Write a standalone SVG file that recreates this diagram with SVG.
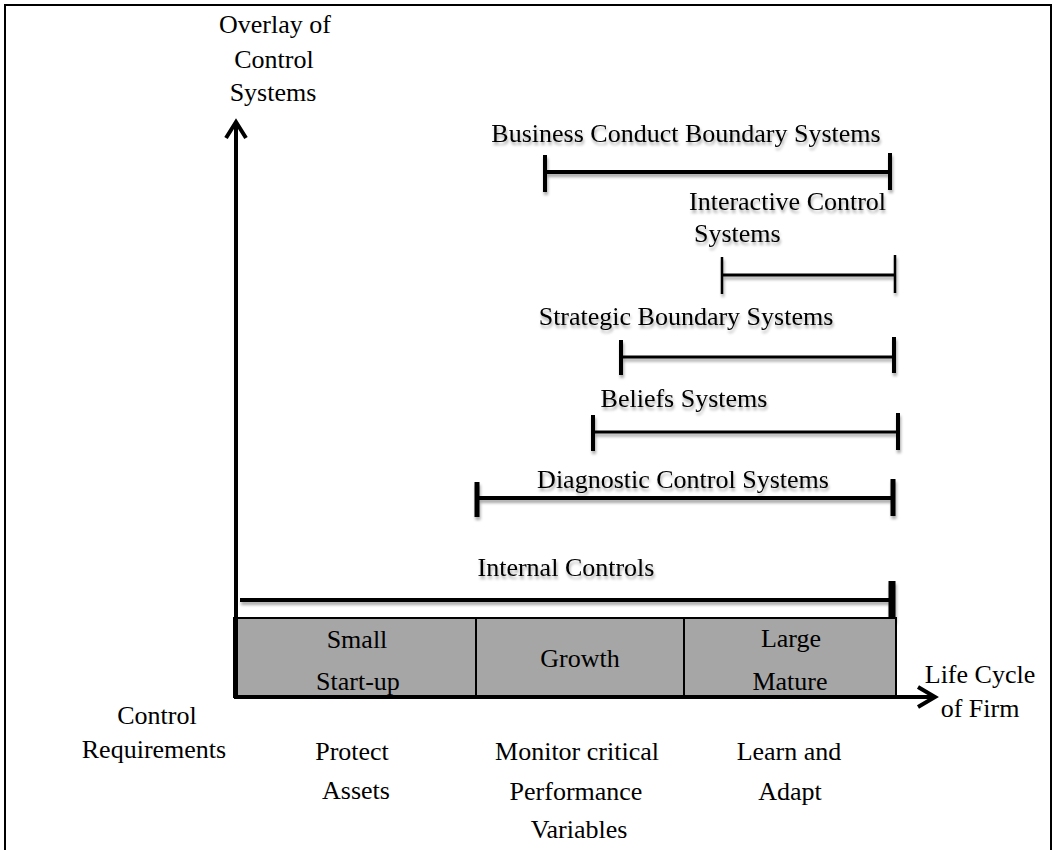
<svg xmlns="http://www.w3.org/2000/svg" width="1055" height="850" viewBox="0 0 1055 850">
  <defs>
    <filter id="shadow" x="-5%" y="-50%" width="110%" height="250%">
      <feGaussianBlur in="SourceAlpha" stdDeviation="1.5"/>
      <feOffset dx="1" dy="3" result="b"/>
      <feComponentTransfer><feFuncA type="linear" slope="0.35"/></feComponentTransfer>
      <feMerge><feMergeNode/><feMergeNode in="SourceGraphic"/></feMerge>
    </filter>
  </defs>
  <style>
    text { font-family: "Liberation Serif", "Times New Roman", serif; font-size: 26px; fill: #000; }
    .mid { text-anchor: middle; }
    .bar { stroke: #000; stroke-width: 4; fill: none; }
    .thin { stroke: #000; stroke-width: 3; fill: none; }
    .tick { stroke: #000; stroke-width: 4; }
    .tickthin { stroke: #000; stroke-width: 2.5; }
    .axis { stroke: #000; stroke-width: 4; fill: none; }
    .stage { fill: #a6a6a6; stroke: #000; stroke-width: 2; }
  </style>
  <rect x="0" y="0" width="1055" height="850" fill="#fff"/>
  <rect x="5" y="5" width="1046" height="860" fill="none" stroke="#000" stroke-width="2"/>

  <!-- Axis labels -->
  <g id="y-axis-label">
    <text class="mid" x="275" y="33">Overlay of</text>
    <text class="mid" x="274" y="68">Control</text>
    <text class="mid" x="273" y="101">Systems</text>
  </g>
  <g id="x-axis-label">
    <text class="mid" x="980" y="683">Life Cycle</text>
    <text class="mid" x="980" y="717">of Firm</text>
  </g>

  <!-- Systems bars -->
  <g id="business-conduct" filter="url(#shadow)">
    <text class="mid" x="686" y="142">Business Conduct Boundary Systems</text>
    <line class="bar" x1="545" y1="172" x2="890" y2="172"/>
    <line class="tick" x1="545" y1="155" x2="545" y2="192"/>
    <line class="tick" x1="890" y1="153" x2="890" y2="190"/>
  </g>
  <g id="interactive" filter="url(#shadow)">
    <text x="689" y="210">Interactive Control</text>
    <text x="694" y="242">Systems</text>
    <line class="thin" x1="722" y1="275" x2="895" y2="275"/>
    <line class="tickthin" x1="722" y1="257" x2="722" y2="294"/>
    <line class="tickthin" x1="895" y1="255" x2="895" y2="293"/>
  </g>
  <g id="strategic-boundary" filter="url(#shadow)">
    <text class="mid" x="686" y="325">Strategic Boundary Systems</text>
    <line class="thin" x1="621" y1="357" x2="894" y2="357"/>
    <line class="tick" x1="621" y1="340" x2="621" y2="375"/>
    <line class="tick" x1="894" y1="337" x2="894" y2="373"/>
  </g>
  <g id="beliefs" filter="url(#shadow)">
    <text class="mid" x="684" y="407">Beliefs Systems</text>
    <line class="thin" x1="593" y1="432" x2="898" y2="432"/>
    <line class="tick" x1="593" y1="415" x2="593" y2="451"/>
    <line class="tick" x1="898" y1="413" x2="898" y2="450"/>
  </g>
  <g id="diagnostic" filter="url(#shadow)">
    <text class="mid" x="683" y="488">Diagnostic Control Systems</text>
    <line class="bar" x1="477" y1="498" x2="893" y2="498"/>
    <line class="tick" x1="477" y1="482" x2="477" y2="517" style="stroke-width:5"/>
    <line class="tick" x1="893" y1="479" x2="893" y2="516" style="stroke-width:5"/>
  </g>
  <g id="internal-controls" filter="url(#shadow)">
    <text class="mid" x="566" y="576">Internal Controls</text>
    <line class="bar" x1="240" y1="600" x2="892" y2="600"/>
    <line class="tick" x1="892" y1="581" x2="892" y2="621" style="stroke-width:7"/>
  </g>

  <!-- Life cycle stages -->
  <g id="stage-small">
    <rect class="stage" x="234" y="618" width="242" height="79"/>
    <text class="mid" x="357" y="648">Small</text>
    <text class="mid" x="358" y="690">Start-up</text>
  </g>
  <g id="stage-growth">
    <rect class="stage" x="476" y="618" width="208" height="79"/>
    <text class="mid" x="580" y="667">Growth</text>
  </g>
  <g id="stage-large">
    <rect class="stage" x="684" y="618" width="212" height="79"/>
    <text class="mid" x="791" y="647">Large</text>
    <text class="mid" x="790" y="690">Mature</text>
  </g>

  <!-- Control requirements -->
  <g id="control-requirements">
    <text class="mid" x="157" y="724">Control</text>
    <text class="mid" x="154" y="758">Requirements</text>
  </g>
  <g id="req-protect">
    <text class="mid" x="352" y="760">Protect</text>
    <text class="mid" x="356" y="799">Assets</text>
  </g>
  <g id="req-monitor">
    <text class="mid" x="577" y="760">Monitor critical</text>
    <text class="mid" x="576" y="800">Performance</text>
    <text class="mid" x="579" y="838">Variables</text>
  </g>
  <g id="req-learn">
    <text class="mid" x="789" y="760">Learn and</text>
    <text class="mid" x="790" y="800">Adapt</text>
  </g>

  <!-- Axes -->
  <g id="connectors">
    <line class="axis" x1="236" y1="697" x2="236" y2="122"/>
    <polyline class="axis" points="226,138 236,122 246,138"/>
    <line class="axis" x1="234" y1="697" x2="935" y2="697"/>
    <polyline class="axis" points="918,687 935,697 918,707"/>
  </g>
</svg>
